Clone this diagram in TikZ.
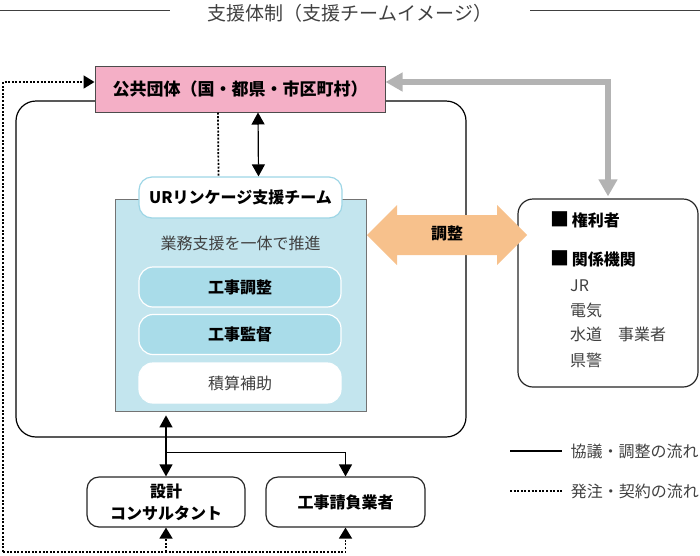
\documentclass[tikz,border=0pt]{standalone}
\usepackage{fontspec}
\setmainfont{Noto Sans CJK JP}
\usetikzlibrary{arrows.meta,positioning,calc}
\definecolor{PubPink}  {HTML}{F4AFC6}
\definecolor{TeamBlue} {HTML}{C3E5EE}
\definecolor{TaskBlue} {HTML}{A9DCE9}
\definecolor{EdgeBlue} {HTML}{9ED6E6}
\definecolor{AdjOrange}{HTML}{F7C18C}
\definecolor{LinkGray} {HTML}{B3B3B3}
\definecolor{TextGray} {HTML}{404040}
\newcommand{\bigsq}{\raisebox{-0.5pt}{\fontsize{19}{19}\selectfont■}}

\begin{document}
\begin{tikzpicture}[x=1pt,y=-1pt,
  txt/.style={font=\fontsize{16}{22}\selectfont},
  btxt/.style={font=\fontsize{16}{22}\selectfont\bfseries},
  unitbox/.style={draw=black!85,line width=1.2pt,rounded corners=12pt,
       fill=white,btxt,align=center,inner sep=0pt,minimum height=50pt},
  task/.style={draw=white,line width=1.2pt,rounded corners=14pt,
       minimum width=202pt,minimum height=40pt,inner sep=0pt},
  flow/.style={line width=1.2pt,black},
  order/.style={line width=1.7pt,dash pattern=on 2pt off 1.6pt},
  blacktip/.style={-{Triangle[length=12pt,width=13pt]}},
  bothtips/.style={{Triangle[length=12pt,width=13pt]}-{Triangle[length=12pt,width=13pt]}},
  ordertip/.style={-{Triangle[length=11pt,width=13pt]}},
  item/.style={anchor=west,txt,text=TextGray,inner sep=0pt}]
  \useasboundingbox (0,0) rectangle (700,555);
  %% Title with rules
  \node[font=\fontsize{19}{21}\selectfont,text=TextGray] (title) at (350,13)
       {支援体制（支援チームイメージ）};
  \draw[TextGray,line width=0.8pt] (0,10) -- (170,10);
  \draw[TextGray,line width=0.8pt] (530,10) -- (700,10);
  %% Outer frame and public body
  \node[draw,line width=1.2pt,rounded corners=20pt,minimum width=450pt,
        minimum height=336pt] (frame) at (241,269) {};
  \node[draw=black!70,line width=1pt,fill=PubPink,minimum width=290pt,
        minimum height=46pt,font=\fontsize{17}{20}\selectfont\bfseries]
       (pub) at (240,89) {公共団体（国・都県・市区町村）};
  %% Support team
  \node[draw=black!55,line width=0.8pt,fill=TeamBlue,minimum width=251pt,
        minimum height=212pt] (team) at (240.5,305) {};
  \node[draw=EdgeBlue,line width=1.2pt,fill=white,rounded corners=13pt,
        minimum width=203pt,minimum height=41pt,btxt]
       (urlabel) at (240.5,197.5) {URリンケージ支援チーム};
  \node[txt,text=TextGray] (slogan) at (240.5,243) {業務支援を一体で推進};
  \node[task,fill=TaskBlue,btxt] (t1) at (240,287) {工事調整};
  \node[task,fill=TaskBlue,btxt] (t2) at (240,334.5) {工事監督};
  \node[task,fill=white,txt,text=TextGray] (t3) at (240,383) {積算補助};
  %% Right-hand parties
  \node[draw=black!85,line width=1.2pt,rounded corners=15pt,fill=white,
        minimum width=180pt,minimum height=188pt] (rbox) at (608,293) {};
  \node[item,text=black,btxt] (r1) at (550,220) {\bigsq\,権利者};
  \node[item,text=black,btxt] (r2) at (550,259) {\bigsq\,関係機関};
  \node[item] (r3) at (570,286) {JR};
  \node[item] (r4) at (570,310) {電気};
  \node[item] (r5) at (570,334) {水道　事業者};
  \node[item] (r6) at (570,360) {県警};
  %% Coordination arrow (orange)
  \coordinate (adjL) at (367,235);
  \coordinate (adjR) at (527,235);
  \fill[AdjOrange] (adjL) -- ++(30,-30) -- ++(0,10) -- ++(100,0)
       -- ++(0,-10) -- (adjR) -- ++(-30,30) -- ++(0,-10) -- ++(-100,0)
       -- ++(0,10) -- cycle;
  \node[btxt] (adjust) at (447,233) {調整};
  %% Gray link public body <-> parties
  \draw[LinkGray,line width=5.5pt,shorten >=2pt,
        {Triangle[length=17pt,width=18pt]}-{Triangle[length=17pt,width=18pt]}]
       ([yshift=7pt]pub.east) -| (rbox.north);
  %% Pub <-> team
  \draw[flow,bothtips] ([xshift=18pt]pub.south) -- ([xshift=18pt]urlabel.north);
  \draw[order] ([xshift=-22pt]pub.south) -- ([xshift=-22pt]urlabel.north);
  %% Consultants and contractors
  \node[unitbox,minimum width=158pt] (design) at (166,502)
       {設計\\コンサルタント};
  \node[unitbox,minimum width=159pt] (contr) at (345.5,502) {工事請負業者};
  \draw[flow,bothtips,shorten <=4pt] (team.south -| design.north) -- (design.north);
  \draw[flow,blacktip] ($(design.north)+(0,-24)$) -| (contr.north);
  %% Order / contract route
  \coordinate (corner) at (3,552);
  \draw[order,ordertip] (corner) |- ([yshift=7pt]pub.west);
  \draw[order,ordertip] (corner) -| (contr.south);
  \draw[order,ordertip] (corner -| design.south) -- (design.south);
  %% Legend
  \coordinate (lg1) at (510,451);
  \coordinate (lg2) at (510,491);
  \draw[flow] (lg1) -- ++(52,0)
       node[right=8pt,txt,text=TextGray,inner sep=0pt] (lgt1) {協議・調整の流れ};
  \draw[order] (lg2) -- ++(52,0)
       node[right=8pt,txt,text=TextGray,inner sep=0pt] (lgt2) {発注・契約の流れ};
\end{tikzpicture}
\end{document}
